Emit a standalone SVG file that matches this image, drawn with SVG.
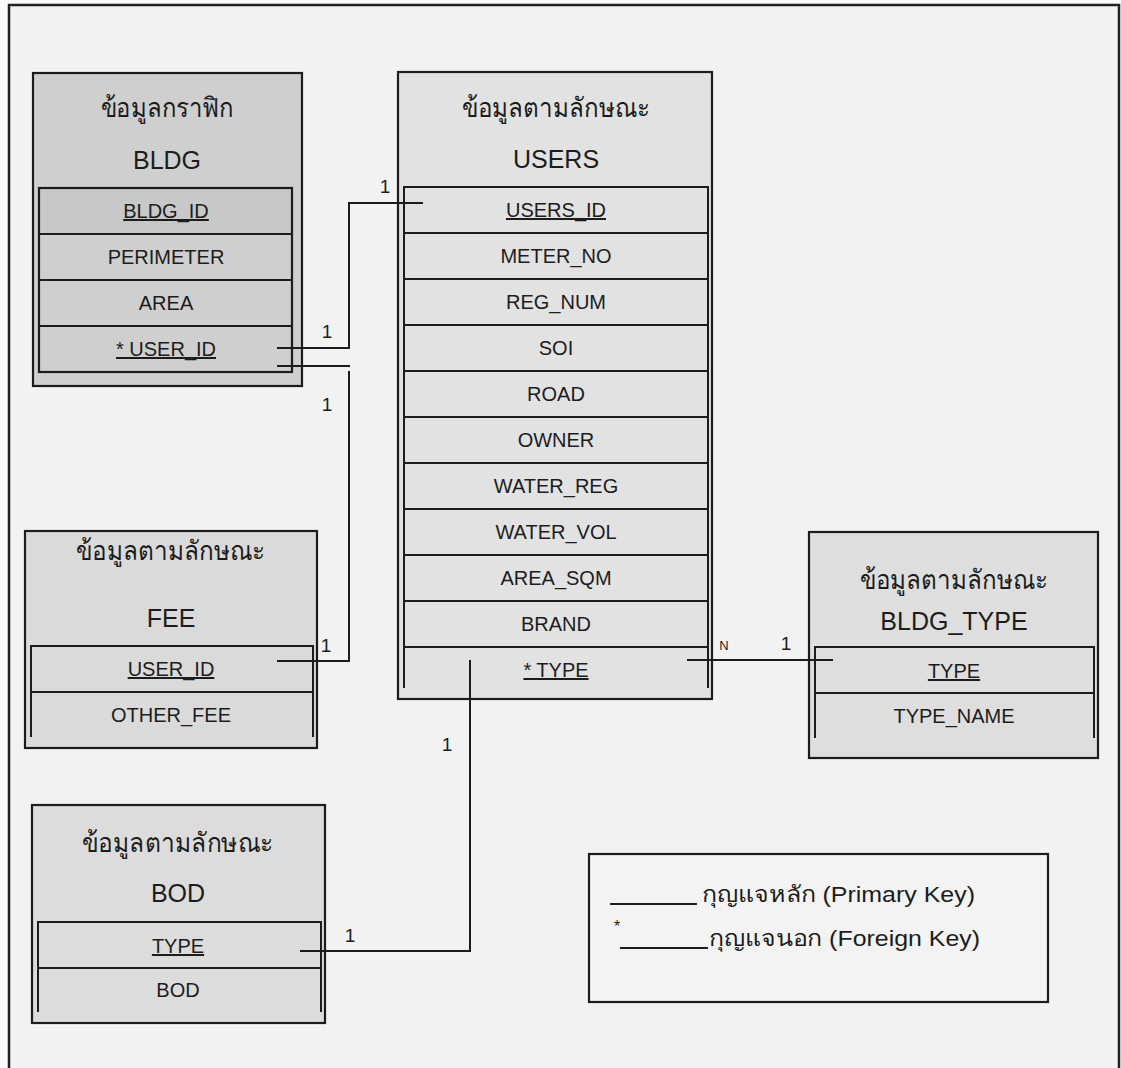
<svg xmlns="http://www.w3.org/2000/svg" width="1121" height="1068" viewBox="0 0 1121 1068">
<style>
.bg{fill:#f2f2f2;stroke:#222;stroke-width:2.5}
.box{stroke:#1c1c1c;stroke-width:2.2}
.ln{stroke:#1c1c1c;stroke-width:2;fill:none}
.t{font-family:"Liberation Sans","Noto Sans","DejaVu Sans",sans-serif;fill:#1c1c1c;text-anchor:middle}
.th{font-size:27px}
.ti{font-size:25px}
.f{font-size:20px}
.u{text-decoration:underline}
.lb{font-size:19px}
.lg{font-size:22px;text-anchor:start}
</style>
<rect x="0" y="0" width="1121" height="1068" fill="#fafafa"/>
<rect class="bg" x="9" y="5" width="1110" height="1080"/>

<g id="BLDG">
<rect class="box" x="33" y="73" width="269" height="313" fill="#cfcfcf"/>
<rect x="39" y="188" width="253" height="46" fill="#c8c8c8"/>
<rect class="box" x="39" y="188" width="253" height="184" fill="none"/>
<path class="ln" d="M39 234H292M39 280H292M39 326H292"/>
<text class="t th" x="167" y="117" textLength="133" lengthAdjust="spacingAndGlyphs">ข้อมูลกราฟิก</text>
<text class="t ti" x="167" y="169">BLDG</text>
<text class="t f u" x="166" y="218">BLDG_ID</text>
<text class="t f" x="166" y="264">PERIMETER</text>
<text class="t f" x="166" y="310">AREA</text>
<text class="t f u" x="166" y="356">* USER_ID</text>
</g>

<g id="USERS">
<rect class="box" x="398" y="72" width="314" height="627" fill="#e2e2e2"/>
<path class="ln" d="M404 688V187H708V688"/>
<path class="ln" d="M404 233H708M404 279H708M404 325H708M404 371H708M404 417H708M404 463H708M404 509H708M404 555H708M404 601H708M404 647H708"/>
<text class="t th" x="556" y="117" textLength="189" lengthAdjust="spacingAndGlyphs">ข้อมูลตามลักษณะ</text>
<text class="t ti" x="556" y="168">USERS</text>
<text class="t f u" x="556" y="217">USERS_ID</text>
<text class="t f" x="556" y="263">METER_NO</text>
<text class="t f" x="556" y="309">REG_NUM</text>
<text class="t f" x="556" y="355">SOI</text>
<text class="t f" x="556" y="401">ROAD</text>
<text class="t f" x="556" y="447">OWNER</text>
<text class="t f" x="556" y="493">WATER_REG</text>
<text class="t f" x="556" y="539">WATER_VOL</text>
<text class="t f" x="556" y="585">AREA_SQM</text>
<text class="t f" x="556" y="631">BRAND</text>
<text class="t f u" x="556" y="677">* TYPE</text>
</g>

<g id="FEE">
<rect class="box" x="25" y="531" width="292" height="217" fill="#dadada"/>
<path class="ln" d="M31 737V646H313V737M31 692H313"/>
<text class="t th" x="171" y="560" textLength="190" lengthAdjust="spacingAndGlyphs">ข้อมูลตามลักษณะ</text>
<text class="t ti" x="171" y="627">FEE</text>
<text class="t f u" x="171" y="676">USER_ID</text>
<text class="t f" x="171" y="722">OTHER_FEE</text>
</g>

<g id="BLDG_TYPE">
<rect class="box" x="809" y="532" width="289" height="226" fill="#dedede"/>
<path class="ln" d="M815 738V647H1094V738M815 693H1094"/>
<text class="t th" x="954" y="589" textLength="189" lengthAdjust="spacingAndGlyphs">ข้อมูลตามลักษณะ</text>
<text class="t ti" x="954" y="630">BLDG_TYPE</text>
<text class="t f u" x="954" y="678">TYPE</text>
<text class="t f" x="954" y="723">TYPE_NAME</text>
</g>

<g id="BOD">
<rect class="box" x="32" y="805" width="293" height="218" fill="#dcdcdc"/>
<path class="ln" d="M38 1012V922H321V1012M38 968H321"/>
<text class="t th" x="178" y="852" textLength="192" lengthAdjust="spacingAndGlyphs">ข้อมูลตามลักษณะ</text>
<text class="t ti" x="178" y="902">BOD</text>
<text class="t f u" x="178" y="953">TYPE</text>
<text class="t f" x="178" y="997">BOD</text>
</g>

<g id="legend">
<rect class="box" x="589" y="854" width="459" height="148" fill="#f3f3f3"/>
<path class="ln" d="M610 904H697M620 948H708"/>
<text class="t lg" x="702" y="902" textLength="273" lengthAdjust="spacingAndGlyphs">กุญแจหลัก (Primary Key)</text>
<text class="t" x="617" y="932" font-size="16">*</text>
<text class="t lg" x="709" y="946" textLength="271" lengthAdjust="spacingAndGlyphs">กุญแจนอก (Foreign Key)</text>
</g>

<g id="connectors">
<path class="ln" d="M277 348H349V203H423"/>
<path class="ln" d="M277 366H350"/>
<path class="ln" d="M349 371V661H277"/>
<path class="ln" d="M687 660H833"/>
<path class="ln" d="M470 660V951H300"/>
<text class="t lb" x="385" y="193">1</text>
<text class="t lb" x="327" y="338">1</text>
<text class="t lb" x="327" y="411">1</text>
<text class="t lb" x="326" y="652">1</text>
<text class="t" x="724" y="650" font-size="13">N</text>
<text class="t lb" x="786" y="650">1</text>
<text class="t lb" x="447" y="751">1</text>
<text class="t lb" x="350" y="942">1</text>
</g>
</svg>
